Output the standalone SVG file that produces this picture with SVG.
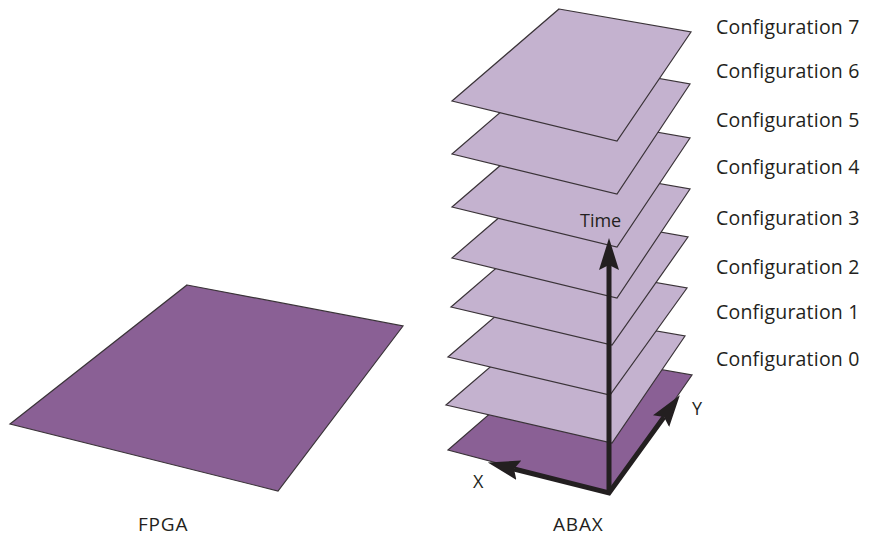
<svg xmlns="http://www.w3.org/2000/svg" width="876" height="537" viewBox="0 0 876 537">
<defs>
<style>
.dark{fill:#8a6095;stroke:#3a3338;stroke-width:1.2;stroke-linejoin:miter}
.light{fill:#c4b2cf;stroke:#3a3338;stroke-width:1.2;stroke-linejoin:miter}
.lbl{font-family:"Open Sans","Noto Sans","Liberation Sans",sans-serif;font-size:19.5px;letter-spacing:0.2px;fill:#231f20}
.ax{font-family:"Open Sans","Noto Sans","Liberation Sans",sans-serif;font-size:18px;fill:#231f20}
.cap{font-family:"Open Sans","Noto Sans","Liberation Sans",sans-serif;font-size:19px;letter-spacing:0.8px;fill:#231f20}
.arrow{fill:none;stroke:#231f20;stroke-width:5;stroke-linejoin:miter}
</style>
<marker id="ah" markerUnits="userSpaceOnUse" markerWidth="40" markerHeight="40" refX="5" refY="10" orient="auto-start-reverse" viewBox="0 0 40 40">
<path d="M0,0 L32,10 L0,20 L5,10 Z" fill="#231f20"/>
</marker>
</defs>
<rect width="876" height="537" fill="#ffffff"/>
<g id="fpga">
<polygon class="dark" points="187,285 403,326 278,491 10,424"/>
<text class="cap" x="138" y="531">FPGA</text>
</g>
<g id="abax">
<g id="config0"><polygon class="dark" points="561,352 692,375 610,493 448,450"/></g>
<g id="config1"><polygon class="light" points="553,313 685,336 612,443 446,405"/></g>
<g id="config2"><polygon class="light" points="555,265 687,288 610,395 448,357"/></g>
<g id="config3"><polygon class="light" points="559,214 688,237 612,345 451,307"/></g>
<g id="config4"><polygon class="light" points="559,166 690,189 617,298 452,258"/></g>
<g id="config5"><polygon class="light" points="559,115 690,138 617,247 452,207"/></g>
<g id="config6"><polygon class="light" points="560,61 690,84 617,194 452,154"/></g>
<g id="config7"><polygon class="light" points="559,9 691,32 617,141 452,101"/></g>
<text class="cap" x="553" y="531">ABAX</text>
</g>
<g id="labels">
<text class="lbl" x="716" y="34">Configuration 7</text>
<text class="lbl" x="716" y="78">Configuration 6</text>
<text class="lbl" x="716" y="127">Configuration 5</text>
<text class="lbl" x="716" y="174">Configuration 4</text>
<text class="lbl" x="716" y="225">Configuration 3</text>
<text class="lbl" x="716" y="274">Configuration 2</text>
<text class="lbl" x="716" y="319">Configuration 1</text>
<text class="lbl" x="716" y="366">Configuration 0</text>
</g>
<g id="connectors">
<path class="arrow" d="M609,493 L609,265" marker-end="url(#ah)"/>
<path class="arrow" d="M514,469 L609,493 L664,417" marker-start="url(#ah)" marker-end="url(#ah)"/>
</g>
<g id="axis-labels">
<text class="ax" x="580" y="227">Time</text>
<text class="ax" x="473" y="488">X</text>
<text class="ax" x="692" y="415">Y</text>
</g>
</svg>
